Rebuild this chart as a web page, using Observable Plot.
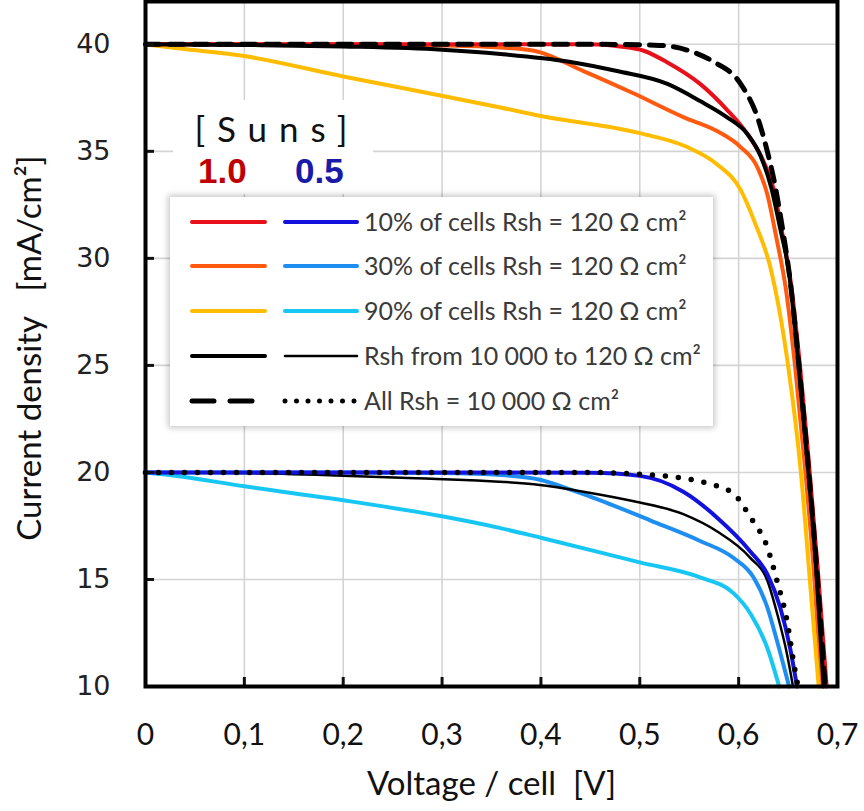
<!DOCTYPE html>
<html><head><meta charset="utf-8">
<script src="https://cdn.jsdelivr.net/npm/d3@7"></script>
<script src="https://cdn.jsdelivr.net/npm/@observablehq/plot@0.6"></script>
<style>
body{margin:0;background:#fff;}
#wrap{position:relative;width:864px;height:811px;overflow:hidden;}
#suns{position:absolute;left:173px;top:100px;width:200px;height:94px;background:#fff;}
#legend{position:absolute;left:170px;top:197px;width:543px;height:229px;background:#fff;box-shadow:0 0 6px 2px rgba(0,0,0,0.22);}
</style></head><body><div id="wrap"></div>
<script>
// ---------- data (voltage V per cell, current density mA/cm²) ----------
const xTicks = [0, 0.1, 0.2, 0.3, 0.4, 0.5, 0.6, 0.7];
const yTicks = [10, 15, 20, 25, 30, 35, 40];

// 1.0 sun
const sun1_pct10 = [[0,40],[0.3,40],[0.45,40],[0.48,39.9],[0.504,39.7],[0.528,39.15],[0.561,38.15],[0.588,36.95],[0.609,35.8],[0.625,34.55],[0.635,33.3],[0.644,31.2],[0.653,28.8],[0.662,25],[0.671,20.5],[0.68,15.5],[0.689,10]];
const sun1_pct30 = [[0,40],[0.2,40],[0.3,39.95],[0.359,39.85],[0.393,39.7],[0.443,38.75],[0.494,37.7],[0.544,36.6],[0.578,35.95],[0.602,35.2],[0.619,34.25],[0.629,33.0],[0.638,31],[0.648,28.5],[0.657,25],[0.667,20.3],[0.676,15.4],[0.684,10]];
const sun1_pct90 = [[0,40],[0.035,39.8],[0.1,39.45],[0.2,38.5],[0.288,37.7],[0.359,37.05],[0.4,36.65],[0.5,35.85],[0.548,35.2],[0.578,34.4],[0.602,33.2],[0.617,31.6],[0.632,29.6],[0.65,25],[0.663,20],[0.672,15],[0.681,10]];
const sun1_range = [[0,40],[0.1,39.97],[0.2,39.9],[0.3,39.75],[0.359,39.55],[0.427,39.2],[0.477,38.75],[0.528,38.15],[0.561,37.35],[0.588,36.6],[0.609,35.8],[0.622,34.8],[0.633,33.3],[0.642,31.4],[0.651,29.3],[0.66,25.3],[0.67,20.3],[0.678,15.8],[0.686,10]];
const sun1_all = [[0,40],[0.3,40],[0.45,40],[0.52,39.95],[0.55,39.7],[0.574,39.2],[0.602,38.15],[0.619,36.6],[0.629,35.0],[0.636,33.6],[0.644,31.5],[0.652,29],[0.661,25],[0.67,20.5],[0.679,15.5],[0.6875,10]];

// 0.5 sun
const sun05_pct10 = [[0,20],[0.3,20],[0.45,19.98],[0.5,19.84],[0.544,19.1],[0.578,17.9],[0.612,16.3],[0.629,15.25],[0.642,13.7],[0.652,11.8],[0.659,10]];
const sun05_pct30 = [[0,20],[0.2,20],[0.3,19.97],[0.36,19.88],[0.4,19.65],[0.43,19.2],[0.46,18.7],[0.511,17.75],[0.561,16.8],[0.595,16.0],[0.615,15.1],[0.629,13.7],[0.639,12.1],[0.651,10]];
const sun05_pct90 = [[0,20],[0.03,19.85],[0.1,19.35],[0.2,18.7],[0.3,17.95],[0.359,17.4],[0.4,16.95],[0.5,15.8],[0.561,15.1],[0.595,14.35],[0.612,13.4],[0.629,11.8],[0.641,10]];
const sun05_range = [[0,20],[0.1,19.97],[0.2,19.85],[0.259,19.75],[0.393,19.45],[0.443,19.1],[0.494,18.65],[0.544,18.05],[0.578,17.25],[0.612,16.0],[0.629,14.95],[0.639,13.4],[0.649,11.5],[0.655,10]];
const sun05_all = [[0,20],[0.3,20],[0.45,20],[0.494,19.93],[0.541,19.75],[0.568,19.5],[0.595,19.0],[0.612,17.9],[0.629,16.5],[0.639,14.9],[0.649,13.05],[0.655,11.3],[0.66,10]];

const legendLabels = [
  "10% of cells Rsh = 120\u202FΩ cm²",
  "30% of cells Rsh = 120\u202FΩ cm²",
  "90% of cells Rsh = 120\u202FΩ cm²",
  "Rsh from 10\u202F000 to 120\u202FΩ cm²",
  "All Rsh = 10\u202F000\u202FΩ cm²"
];
const sunsLevels = ["1.0", "0.5"];

// ---------- styles ----------
const C = {red:"#e8101a", orange:"#ff5a10", yellow:"#ffbc00", blue:"#1212dc", lblue:"#1e8ef0", cyan:"#18c6f4", black:"#000"};
const fmtX = d => d === 0 ? "0" : d3.format(".1f")(d).replace(".", ",");
const ln = (pts, o) => Plot.line(pts, {x: d => d[0], y: d => d[1], curve: "monotone-x", strokeLinejoin: "round", ...o});

const chart = Plot.plot({
  width: 864, height: 811,
  marginLeft: 145, marginRight: 27, marginTop: 1, marginBottom: 125,
  x: {domain: [0, 0.7]},
  y: {domain: [10, 42]},
  style: {fontFamily: "Lato, sans-serif", background: "#fff", color: "#111"},
  marks: [
    Plot.gridX(xTicks, {stroke: "#d4d4d4", strokeOpacity: 1, strokeWidth: 1.6}),
    Plot.gridY(yTicks, {stroke: "#d4d4d4", strokeOpacity: 1, strokeWidth: 1.6}),
    ln(sun05_pct90, {stroke: C.cyan, strokeWidth: 4}),
    ln(sun05_pct30, {stroke: C.lblue, strokeWidth: 4}),
    ln(sun05_range, {stroke: C.black, strokeWidth: 2.5}),
    ln(sun05_pct10, {stroke: C.blue, strokeWidth: 4}),
    ln(sun05_all, {stroke: C.black, strokeWidth: 5.5, strokeDasharray: "0,13", strokeLinecap: "round"}),
    ln(sun1_pct30, {stroke: C.orange, strokeWidth: 4}),
    ln(sun1_pct90, {stroke: C.yellow, strokeWidth: 4}),
    ln(sun1_pct10, {stroke: C.red, strokeWidth: 4}),
    ln(sun1_range, {stroke: C.black, strokeWidth: 4}),
    ln(sun1_all, {stroke: C.black, strokeWidth: 5, strokeDasharray: "14,10"}),
    Plot.axisX(xTicks, {tickSize: -9, tickPadding: 46, strokeWidth: 3, tickFormat: fmtX, fontSize: 30, label: null, fill: "#111"}),
    Plot.axisY(yTicks, {tickSize: -9, tickPadding: 44, strokeWidth: 3, fontSize: 27, fontFamily: "DejaVu Sans", label: null, fill: "#222"}),
    Plot.frame({stroke: "#000", strokeWidth: 4}),
    Plot.text(["Voltage / cell\u00a0\u00a0[V]"], {frameAnchor: "bottom", dy: 108, fontSize: 33, fill: "#111"}),
    Plot.text(["Current density\u00a0\u00a0\u00a0[mA/cm²]"], {frameAnchor: "left", textAnchor: "middle", rotate: -90, dx: -115, dy: 4, fontSize: 33, fill: "#111"})
  ]
});

const wrap = document.getElementById("wrap");
wrap.appendChild(chart);

// Suns header
const suns = d3.select(wrap).append("div").attr("id", "suns");
const sSvg = suns.append("svg").attr("width", 200).attr("height", 94);
sSvg.append("text").attr("x", 104).attr("y", 42).attr("text-anchor", "middle")
  .attr("font-family", "Lato, sans-serif").attr("font-size", 35).attr("letter-spacing", 12).attr("fill", "#111")
  .text("[Suns]");
sSvg.append("text").attr("x", 25).attr("y", 83).attr("font-family", "Liberation Sans, Arial, sans-serif")
  .attr("font-weight", "bold").attr("font-size", 35).attr("fill", "#c00000").text(sunsLevels[0]);
sSvg.append("text").attr("x", 122).attr("y", 83).attr("font-family", "Liberation Sans, Arial, sans-serif")
  .attr("font-weight", "bold").attr("font-size", 35).attr("fill", "#1a1aa8").text(sunsLevels[1]);

// Legend
const leg = d3.select(wrap).append("div").attr("id", "legend");
const lSvg = leg.append("svg").attr("width", 543).attr("height", 229);
const rowY = [25, 69, 114, 159, 204];
const samples = [
  [{stroke: C.red, w: 4}, {stroke: C.blue, w: 4}],
  [{stroke: C.orange, w: 4}, {stroke: C.lblue, w: 4}],
  [{stroke: C.yellow, w: 4}, {stroke: C.cyan, w: 4}],
  [{stroke: C.black, w: 4}, {stroke: C.black, w: 2.5}],
  [{stroke: C.black, w: 5, dash: "22,16"}, {stroke: C.black, w: 5, dash: "0,11.5", cap: "round"}]
];
legendLabels.forEach((t, i) => {
  const y = rowY[i];
  const [a, b] = samples[i];
  lSvg.append("line").attr("x1", 22).attr("x2", 95).attr("y1", y).attr("y2", y)
    .attr("stroke", a.stroke).attr("stroke-width", a.w).attr("stroke-dasharray", a.dash || null).attr("stroke-linecap", "round");
  lSvg.append("line").attr("x1", 115).attr("x2", 187).attr("y1", y).attr("y2", y)
    .attr("stroke", b.stroke).attr("stroke-width", b.w).attr("stroke-dasharray", b.dash || null).attr("stroke-linecap", b.cap || "round");
  lSvg.append("text").attr("x", 194).attr("y", y).attr("dy", "0.35em")
    .attr("font-family", "Lato, sans-serif").attr("font-size", 25).attr("fill", "#3a3a3a").text(t);
});
</script></body></html>
